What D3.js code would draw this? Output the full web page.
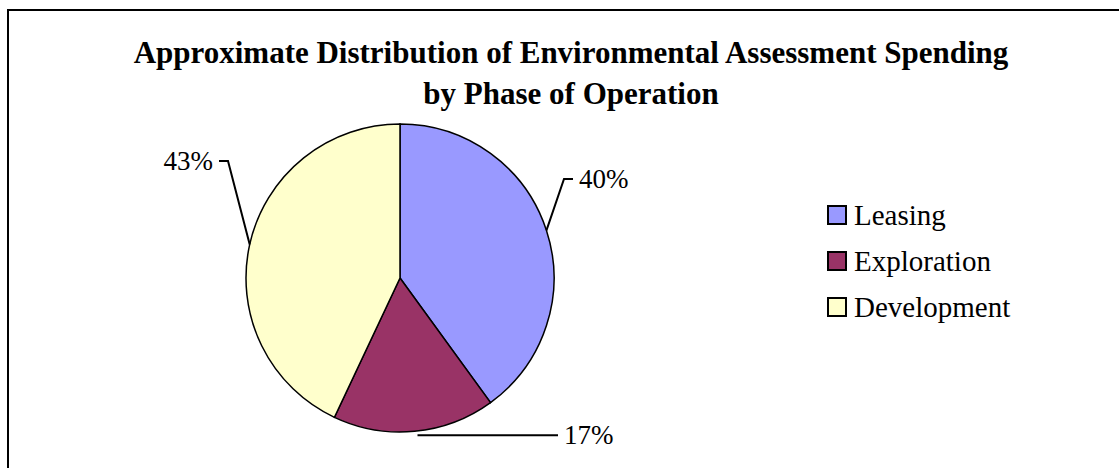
<!DOCTYPE html>
<html>
<head>
<meta charset="utf-8">
<script src="https://cdn.jsdelivr.net/npm/d3@7"></script>
<style>
  body { margin: 0; background: #fff; }
  text { font-family: "Liberation Serif", "Times New Roman", serif; }
</style>
</head>
<body>
<div id="chart"></div>
<script>
// Data
var phases = ["Leasing", "Exploration", "Development"];
var shares = [40, 17, 43];
var colors = ["#9999FF", "#993366", "#FFFFCC"];
var titleLines = ["Approximate Distribution of Environmental Assessment Spending", "by Phase of Operation"];

var width = 1119, height = 468;
var cx = 400, cy = 278, radius = 154;

var svg = d3.select("#chart")
  .append("svg")
  .attr("width", width)
  .attr("height", height);

// chart frame (runs off the right and bottom edge)
svg.append("rect")
  .attr("x", 8)
  .attr("y", 10)
  .attr("width", 1140)
  .attr("height", 480)
  .attr("fill", "#fff")
  .attr("stroke", "#000")
  .attr("stroke-width", 2);

// title
svg.append("g").selectAll("text")
  .data(titleLines)
  .enter()
  .append("text")
  .attr("x", 571)
  .attr("y", (d, i) => 63 + i * 41)
  .attr("text-anchor", "middle")
  .style("font-size", "31px")
  .style("font-weight", "bold")
  .text(d => d);

var pie = d3.pie().sort(null).value(d => d);
var arc = d3.arc().innerRadius(0).outerRadius(radius);
var arcs = pie(shares);

var g = svg.append("g")
  .attr("transform", "translate(" + cx + "," + cy + ")");

g.selectAll("path")
  .data(arcs)
  .enter()
  .append("path")
  .attr("d", arc)
  .attr("fill", (d, i) => colors[i])
  .attr("stroke", "#000")
  .attr("stroke-width", 1.5);

// label placement (elbow point relative to centre, side of the text)
var labelSpots = [
  { elbow: [164, -99], side: 1 },
  { elbow: [158, 157], side: 1 },
  { elbow: [-172, -117], side: -1 }
];

arcs.forEach(function(a, i) {
  var mid = (a.startAngle + a.endAngle) / 2;
  var ex = Math.sin(mid) * radius, ey = -Math.cos(mid) * radius;
  var spot = labelSpots[i];
  var hx = spot.elbow[0] + spot.side * 9;
  var pts = i === 1
    ? [[ex + 3, ey + 4], [spot.elbow[0], ey + 4]]
    : [[ex, ey], spot.elbow, [hx, spot.elbow[1]]];
  g.append("path")
    .attr("d", d3.line()(pts))
    .attr("fill", "none")
    .attr("stroke", "#000")
    .attr("stroke-width", 2);
  var last = pts[pts.length - 1];
  g.append("text")
    .attr("x", last[0] + spot.side * 6)
    .attr("y", last[1] + 9)
    .attr("text-anchor", spot.side > 0 ? "start" : "end")
    .style("font-size", "27px")
    .text(shares[i] + "%");
});

// legend
var legend = svg.append("g")
  .attr("transform", "translate(828,206)");

var rows = legend.selectAll("g")
  .data(phases)
  .enter()
  .append("g")
  .attr("transform", (d, i) => "translate(0," + i * 46 + ")");

rows.append("rect")
  .attr("width", 18)
  .attr("height", 18)
  .attr("fill", (d, i) => colors[i])
  .attr("stroke", "#000")
  .attr("stroke-width", 2);

rows.append("text")
  .attr("x", 26)
  .attr("y", 19)
  .style("font-size", "29px")
  .text(d => d);
</script>
</body>
</html>
